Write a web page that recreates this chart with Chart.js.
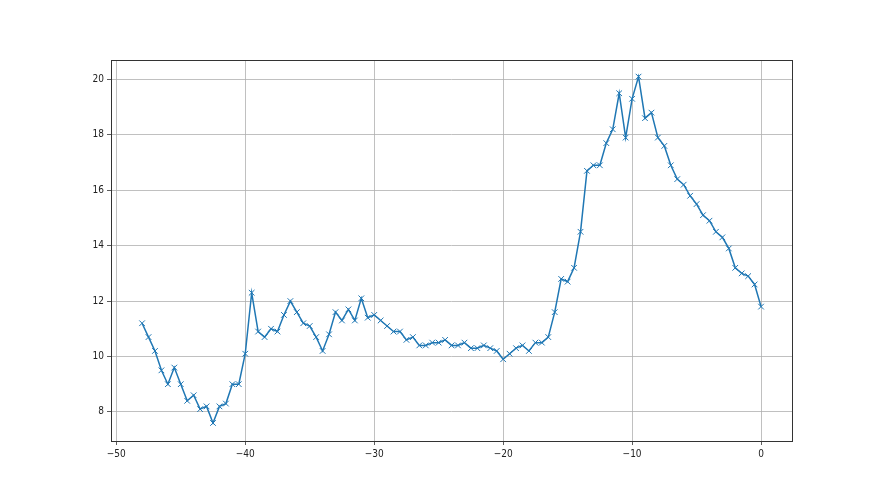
<!DOCTYPE html>
<html>
<head>
<meta charset="utf-8">
<script src="https://cdn.jsdelivr.net/npm/chart.js@4.4.1/dist/chart.umd.min.js"></script>
<style>
  html, body { margin: 0; padding: 0; background: #fff; }
  #chart { display: block; }
</style>
</head>
<body>
<canvas id="chart" width="880" height="495"></canvas>
<script>
// x positions: -48 .. 0 in steps of 0.5
const xStart = -48;
const xStep = 0.5;

// y values
const values = [
  11.2, 10.7, 10.2, 9.5, 9.0, 9.6, 9.0, 8.4, 8.6, 8.1,
  8.2, 7.6, 8.2, 8.3, 9.0, 9.0, 10.1, 12.3, 10.9, 10.7,
  11.0, 10.9, 11.5, 12.0, 11.6, 11.2, 11.1, 10.7, 10.2, 10.8,
  11.6, 11.3, 11.7, 11.3, 12.1, 11.4, 11.5, 11.3, 11.1, 10.9,
  10.9, 10.6, 10.7, 10.4, 10.4, 10.5, 10.5, 10.6, 10.4, 10.4,
  10.5, 10.3, 10.3, 10.4, 10.3, 10.2, 9.9, 10.1, 10.3, 10.4,
  10.2, 10.5, 10.5, 10.7, 11.6, 12.8, 12.7, 13.2, 14.5, 16.7,
  16.9, 16.9, 17.7, 18.2, 19.5, 17.9, 19.3, 20.1, 18.6, 18.8,
  17.9, 17.6, 16.9, 16.4, 16.2, 15.8, 15.5, 15.1, 14.9, 14.5,
  14.3, 13.9, 13.2, 13.0, 12.9, 12.6, 11.8
];

const xTicks = [-50, -40, -30, -20, -10, 0];
const yTicks = [8, 10, 12, 14, 16, 18, 20];

const points = values.map((v, i) => ({ x: xStart + i * xStep, y: v }));

// matplotlib-style spines round the plot area
const spines = {
  id: "spines",
  afterDraw(chart) {
    const { ctx, chartArea: a } = chart;
    ctx.save();
    ctx.strokeStyle = "#333";
    ctx.lineWidth = 1;
    ctx.strokeRect(Math.round(a.left) + 0.5, Math.round(a.top) + 0.5,
      Math.round(a.right - a.left), Math.round(a.bottom - a.top));
    ctx.restore();
  },
};

const minus = (v) => String(v).replace("-", "\u2212");

// the reference labels are narrow, so use a narrow face
const tickFont = { family: "'Liberation Sans Narrow', 'DejaVu Sans Condensed', 'DejaVu Sans'", size: 10 };

new Chart(document.getElementById("chart"), {
  type: "line",
  data: {
    datasets: [
      {
        data: points,
        borderColor: "#1f77b4",
        backgroundColor: "#1f77b4",
        borderWidth: 1.5,
        pointStyle: "crossRot",
        pointRadius: 4,
        pointBorderWidth: 1,
        pointBorderColor: "#1f77b4",
        tension: 0,
      },
    ],
  },
  plugins: [spines],
  options: {
    responsive: false,
    animation: false,
    layout: { padding: { left: 0, top: 60, right: 88, bottom: 0 } },
    plugins: {
      legend: { display: false },
      tooltip: { enabled: false },
    },
    scales: {
      x: {
        type: "linear",
        min: -50.41,
        max: 2.4,
        afterBuildTicks: (s) => { s.ticks = xTicks.map((v) => ({ value: v })); },
        afterFit: (s) => { s.height = 54; },
        grid: { color: "#b0b0b0", lineWidth: 0.8, tickColor: "#333", tickLength: 4 },
        border: { display: false },
        ticks: { font: tickFont, color: "#222", padding: 3, maxRotation: 0, callback: minus },
      },
      y: {
        type: "linear",
        min: 6.95,
        max: 20.7,
        afterBuildTicks: (s) => { s.ticks = yTicks.map((v) => ({ value: v })); },
        afterFit: (s) => { s.width = 111; },
        grid: { color: "#b0b0b0", lineWidth: 0.8, tickColor: "#333", tickLength: 4 },
        border: { display: false },
        ticks: { font: tickFont, color: "#222", padding: 3, callback: minus },
      },
    },
  },
});
</script>
</body>
</html>
